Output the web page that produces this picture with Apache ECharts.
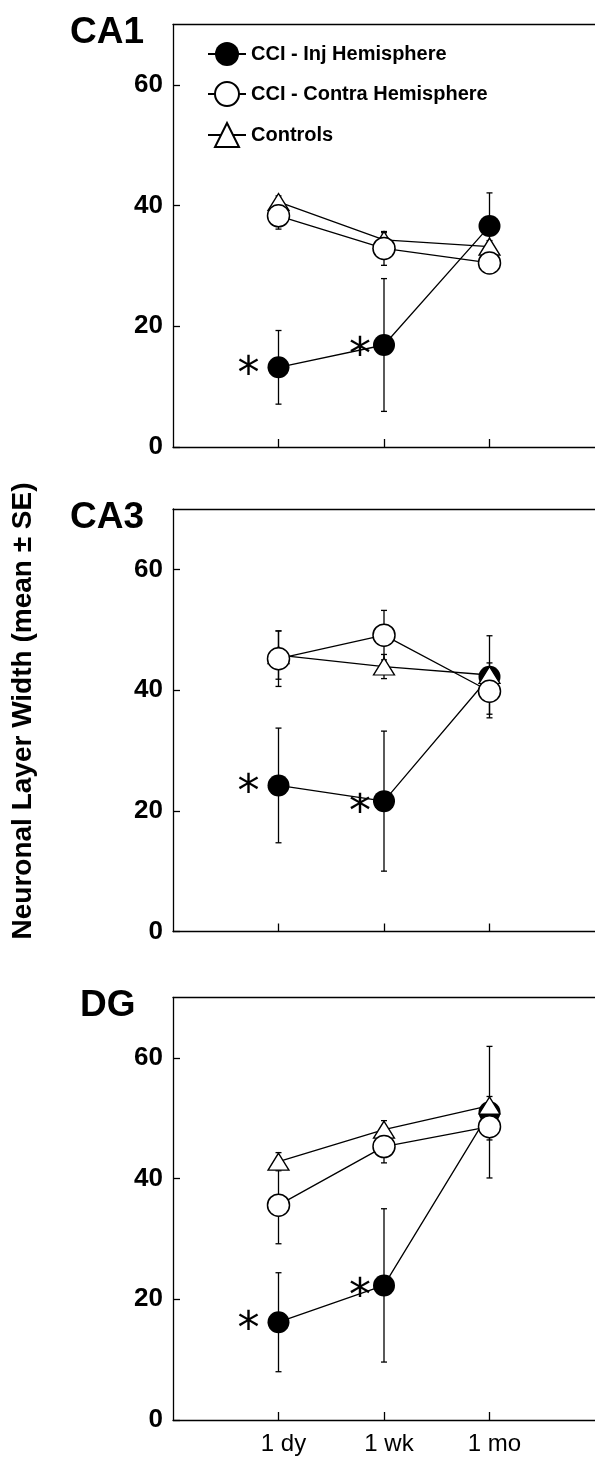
<!DOCTYPE html>
<html lang="en">
<head>
    <meta charset="utf-8">
    <title>Neuronal Layer Width</title>
    <script src="https://cdn.jsdelivr.net/npm/echarts@6.0.0/dist/echarts.min.js"></script>
    <style>
        html, body { margin: 0; padding: 0; background: #fff; }
        #chart { width: 595px; height: 1458px; }
    </style>
</head>
<body>
<div id="chart"></div>
<script type="text/javascript">
    // time points and groups
    var timeLabels = ['1 dy', '1 wk', '1 mo'];
    var groupNames = ['CCI - Inj Hemisphere', 'CCI - Contra Hemisphere', 'Controls'];
    var regionNames = ['CA1', 'CA3', 'DG'];
    var yTicks = [0, 20, 40, 60];
    var stars = ['*', '*', ''];

    // CA1
    var ca1Inj = [13.2, 16.9, 36.6];
    var ca1InjSE = [6.1, 11.0, 5.5];
    var ca1Contra = [38.3, 32.9, 30.5];
    var ca1ContraSE = [2.2, 2.8, 1.2];
    var ca1Ctrl = [40.6, 34.3, 33.2];
    var ca1CtrlSE = [1.0, 1.2, 1.0];

    // CA3
    var ca3Inj = [24.2, 21.6, 42.2];
    var ca3InjSE = [9.5, 11.6, 6.8];
    var ca3Contra = [45.2, 49.1, 39.8];
    var ca3ContraSE = [4.6, 4.1, 3.8];
    var ca3Ctrl = [45.8, 43.9, 42.5];
    var ca3CtrlSE = [4.0, 2.0, 2.0];

    // DG
    var dgInj = [16.2, 22.3, 51.0];
    var dgInjSE = [8.2, 12.7, 10.9];
    var dgContra = [35.6, 45.3, 48.6];
    var dgContraSE = [6.4, 2.7, 2.2];
    var dgCtrl = [42.8, 48.1, 52.1];
    var dgCtrlSE = [1.5, 1.5, 1.5];

    var regions = [
        {inj: ca1Inj, injSE: ca1InjSE, contra: ca1Contra, contraSE: ca1ContraSE, ctrl: ca1Ctrl, ctrlSE: ca1CtrlSE},
        {inj: ca3Inj, injSE: ca3InjSE, contra: ca3Contra, contraSE: ca3ContraSE, ctrl: ca3Ctrl, ctrlSE: ca3CtrlSE},
        {inj: dgInj, injSE: dgInjSE, contra: dgContra, contraSE: dgContraSE, ctrl: dgCtrl, ctrlSE: dgCtrlSE}
    ];

    var gridTops = [24.5, 509, 997.5];
    var titleLeft = [70, 70, 80];
    var starOffsets = [[-30, 9], [-24, 13], [0, 0]];
    var font = 'Liberation Sans, Arial, Helvetica, sans-serif';

    function pts(vals) {
        return vals.map(function (v, i) { return [i + 1, v]; });
    }

    function errData(vals, se) {
        return vals.map(function (v, i) { return [i + 1, v - se[i], v + se[i]]; });
    }

    function renderErr(params, api) {
        var x = api.value(0);
        var top = api.coord([x, api.value(2)]);
        var bot = api.coord([x, api.value(1)]);
        var w = 3;
        var st = {stroke: '#000', lineWidth: 1.3};
        return {
            type: 'group',
            children: [
                {type: 'line', shape: {x1: top[0], y1: top[1], x2: bot[0], y2: bot[1]}, style: st},
                {type: 'line', shape: {x1: top[0] - w, y1: top[1], x2: top[0] + w, y2: top[1]}, style: st},
                {type: 'line', shape: {x1: bot[0] - w, y1: bot[1], x2: bot[0] + w, y2: bot[1]}, style: st}
            ]
        };
    }

    var grids = [], xAxes = [], yAxes = [], series = [], titles = [];

    regions.forEach(function (r, g) {
        grids.push({left: 173, right: 0, top: gridTops[g], height: 422.5});
        titles.push({
            text: regionNames[g], left: titleLeft[g], top: gridTops[g] - 10,
            padding: 0,
            textStyle: {fontFamily: font, fontSize: 37, fontWeight: 'bold', color: '#000'}
        });
        xAxes.push({
            type: 'value', gridIndex: g, min: 0, max: 4, interval: 1,
            axisLine: {onZero: false, lineStyle: {color: '#000', width: 1.3}},
            axisTick: {inside: true, length: 8, customValues: [1, 2, 3], lineStyle: {color: '#000', width: 1.3}},
            axisLabel: {
                show: g === 2, customValues: [1, 2, 3], margin: 12, padding: [0, 0, 0, 10],
                fontFamily: font, fontSize: 24, color: '#000',
                formatter: function (v) { return timeLabels[v - 1] || ''; }
            },
            splitLine: {show: false}
        });
        yAxes.push({
            type: 'value', gridIndex: g, min: 0, max: 70, interval: 20,
            axisLine: {show: true, onZero: false, lineStyle: {color: '#000', width: 1.3}},
            axisTick: {show: true, inside: true, length: 7, customValues: yTicks, lineStyle: {color: '#000', width: 1.3}},
            axisLabel: {
                customValues: yTicks, margin: 10,
                fontFamily: font, fontSize: 26, fontWeight: 'bold', color: '#000'
            },
            splitLine: {show: false}
        });

        var errs = errData(r.inj, r.injSE).concat(errData(r.contra, r.contraSE), errData(r.ctrl, r.ctrlSE));
        series.push({
            type: 'custom', name: 'err' + g, xAxisIndex: g, yAxisIndex: g, z: 1,
            renderItem: renderErr, encode: {x: 0, y: [1, 2]}, data: errs
        });

        series.push({
            type: 'line', name: groupNames[0], xAxisIndex: g, yAxisIndex: g, z: 2,
            symbol: 'circle', symbolSize: 22,
            itemStyle: {color: '#000'},
            lineStyle: {color: '#000', width: 1.3},
            label: {
                show: true, position: 'inside', fontFamily: 'DejaVu Sans', fontSize: 44, color: '#000',
                formatter: function (p) { return stars[p.dataIndex]; }
            },
            data: pts(r.inj).map(function (d, i) {
                return {value: d, label: {offset: starOffsets[i]}};
            })
        });
        series.push({
            type: 'line', name: groupNames[2], xAxisIndex: g, yAxisIndex: g, z: 3,
            symbol: 'triangle', symbolSize: [21, 17],
            itemStyle: {color: '#fff', borderColor: '#000', borderWidth: 1.3},
            lineStyle: {color: '#000', width: 1.3},
            data: pts(r.ctrl)
        });
        series.push({
            type: 'line', name: groupNames[1], xAxisIndex: g, yAxisIndex: g, z: 4,
            symbol: 'circle', symbolSize: 22,
            itemStyle: {color: '#fff', borderColor: '#000', borderWidth: 1.5},
            lineStyle: {color: '#000', width: 1.3},
            data: pts(r.contra)
        });
    });

    // top frame lines
    regions.forEach(function (r, g) {
        xAxes.push({
            type: 'value', gridIndex: g, position: 'top', min: 0, max: 4,
            axisLine: {onZero: false, lineStyle: {color: '#000', width: 1.3}},
            axisTick: {show: false}, axisLabel: {show: false}, splitLine: {show: false}
        });
    });

    var myChart = echarts.init(document.getElementById('chart'), null, {renderer: 'canvas'});
    var option = {
        backgroundColor: '#fff',
        animation: false,
        title: titles,
        grid: grids,
        xAxis: xAxes,
        yAxis: yAxes,
        legend: {
            data: groupNames,
            orient: 'vertical', left: 207, top: 42, padding: 0,
            itemWidth: 38, itemHeight: 30, itemGap: 15,
            selectedMode: false,
            textStyle: {fontFamily: font, fontSize: 20, fontWeight: 'bold', color: '#000'}
        },
        graphic: [{
            type: 'text', x: 23, y: 711, rotation: Math.PI / 2,
            style: {
                text: 'Neuronal Layer Width (mean \u00b1 SE)',
                font: 'bold 28px ' + font, fill: '#000',
                textAlign: 'center', textVerticalAlign: 'middle'
            }
        }],
        series: series
    };
    myChart.setOption(option);
</script>
</body>
</html>
